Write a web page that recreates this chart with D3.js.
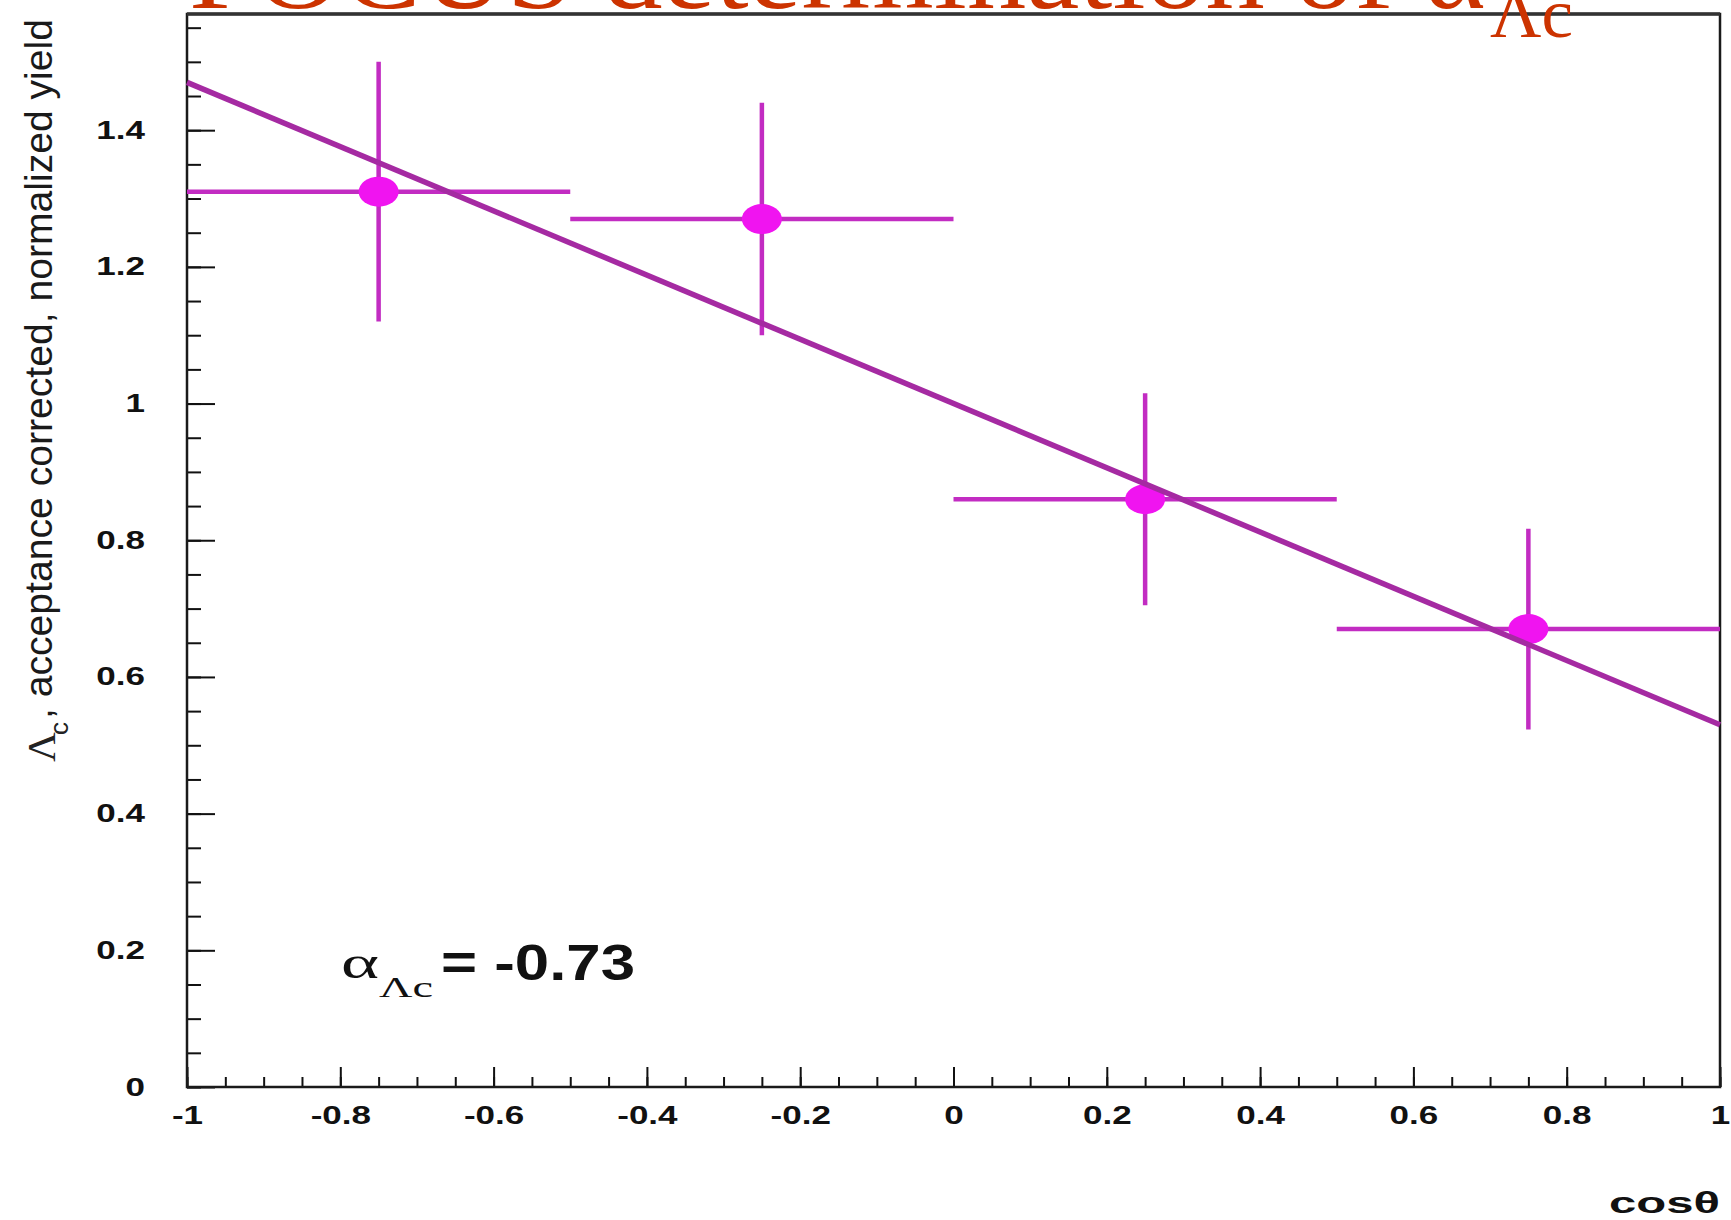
<!DOCTYPE html>
<html>
<head>
<meta charset="utf-8">
<script src="https://cdn.jsdelivr.net/npm/d3@7"></script>
<style>
body { margin: 0; background: #fff; }
svg { display: block; }
</style>
</head>
<body>
<svg id="chart" width="1731" height="1220"></svg>
<script>
// Data
const binCenters = [-0.75, -0.25, 0.25, 0.75];
const binHalfWidths = [0.25, 0.25, 0.25, 0.25];
const yields = [1.31, 1.27, 0.86, 0.67];
const yieldErrors = [0.19, 0.17, 0.155, 0.147];
const fitCos = [-1, 1];
const fitYield = [1.47, 0.53];
const yMajorTicks = [0, 0.2, 0.4, 0.6, 0.8, 1, 1.2, 1.4];
const xMajorTicks = [-1, -0.8, -0.6, -0.4, -0.2, 0, 0.2, 0.4, 0.6, 0.8, 1];
const alphaText = '= -0.73';

const svg = d3.select('#chart');
const sans = '"Liberation Sans", Arial, sans-serif';
const serif = '"Liberation Serif", "Times New Roman", serif';

const x = d3.scaleLinear().domain([-1, 1]).range([187, 1720]);
const y = d3.scaleLinear().domain([0, 1.57]).range([1087, 14]);

const fmt = d => String(+d.toFixed(2));

// stretch labels sideways like the original bitmap
function widen(sel, k) {
    sel.each(function() {
        const w = this.getComputedTextLength();
        d3.select(this).attr('textLength', w * k).attr('lengthAdjust', 'spacingAndGlyphs');
    });
}

function styleAxis(g) {
    g.select('.domain').remove();
    g.selectAll('line').attr('stroke', '#111').attr('stroke-width', 2);
}

// Minor ticks
svg.append('g')
    .attr('transform', 'translate(187,0)')
    .call(d3.axisLeft(y).tickValues(d3.range(0, 1.56, 0.05)).tickSize(-14).tickFormat(''))
    .call(styleAxis);
svg.append('g')
    .attr('transform', 'translate(0,1087)')
    .call(d3.axisBottom(x).tickValues(d3.range(-1, 1.001, 0.05)).tickSize(-10).tickFormat(''))
    .call(styleAxis);

// Major ticks + labels
const yAxis = svg.append('g')
    .attr('transform', 'translate(187,0)')
    .call(d3.axisLeft(y).tickValues(yMajorTicks).tickSize(-28).tickPadding(42).tickFormat(fmt))
    .call(styleAxis);
yAxis.selectAll('text')
    .attr('font-family', sans).attr('font-weight', 'bold').attr('font-size', 25).attr('fill', '#111');
widen(yAxis.selectAll('text'), 1.4);

const xAxis = svg.append('g')
    .attr('transform', 'translate(0,1087)')
    .call(d3.axisBottom(x).tickValues(xMajorTicks).tickSize(-20).tickPadding(19).tickFormat(fmt))
    .call(styleAxis);
xAxis.selectAll('text')
    .attr('font-family', sans).attr('font-weight', 'bold').attr('font-size', 25).attr('fill', '#111');
widen(xAxis.selectAll('text'), 1.4);

// Frame
svg.append('rect')
    .attr('x', x(-1)).attr('y', y(1.57))
    .attr('width', x(1) - x(-1)).attr('height', y(0) - y(1.57))
    .attr('fill', 'none').attr('stroke', '#1a1a1a').attr('stroke-width', 2.5);
svg.append('line')
    .attr('x1', x(-1)).attr('x2', x(1)).attr('y1', y(1.57)).attr('y2', y(1.57))
    .attr('stroke', '#333').attr('stroke-width', 3.5);

// Points
const pts = binCenters.map((c, i) => ({ c, hw: binHalfWidths[i], v: yields[i], e: yieldErrors[i] }));

const bars = svg.append('g').attr('stroke', '#c22cc2').attr('stroke-width', 4.5);
bars.selectAll('.h').data(pts).enter().append('line')
    .attr('x1', d => x(d.c - d.hw)).attr('x2', d => x(d.c + d.hw))
    .attr('y1', d => y(d.v)).attr('y2', d => y(d.v));
bars.selectAll('.v').data(pts).enter().append('line')
    .attr('x1', d => x(d.c)).attr('x2', d => x(d.c))
    .attr('y1', d => y(d.v - d.e)).attr('y2', d => y(d.v + d.e));

svg.append('g').selectAll('ellipse').data(pts).enter().append('ellipse')
    .attr('cx', d => x(d.c)).attr('cy', d => y(d.v))
    .attr('rx', 20).attr('ry', 15)
    .attr('fill', '#f014f0');

// Fit line
svg.append('path')
    .datum(fitCos.map((c, i) => [c, fitYield[i]]))
    .attr('d', d3.line().x(d => x(d[0])).y(d => y(d[1])))
    .attr('fill', 'none').attr('stroke', '#a52aa2').attr('stroke-width', 5.5);

// Title (cut off at top, as in the original)
svg.append('text')
    .attr('x', 189).attr('y', 8)
    .attr('font-family', serif).attr('font-size', 108).attr('fill', '#cc3300')
    .attr('textLength', 1297).attr('lengthAdjust', 'spacingAndGlyphs')
    .text('FOCUS determination of α');
svg.append('text')
    .attr('x', 1490).attr('y', 37)
    .attr('font-family', serif).attr('font-size', 70).attr('fill', '#cc3300')
    .attr('textLength', 83).attr('lengthAdjust', 'spacingAndGlyphs')
    .text('Λc');

// Y title
const yt = svg.append('g').attr('transform', 'translate(0,762) rotate(-90)');
yt.append('text')
    .attr('x', 0).attr('y', 55)
    .attr('font-family', serif).attr('font-size', 40).attr('fill', '#222')
    .attr('textLength', 30).attr('lengthAdjust', 'spacingAndGlyphs')
    .text('Λ');
yt.append('text')
    .attr('x', 27).attr('y', 68)
    .attr('font-family', sans).attr('font-size', 26).attr('fill', '#222')
    .text('c');
yt.append('text')
    .attr('x', 43).attr('y', 52)
    .attr('font-family', sans).attr('font-size', 38).attr('fill', '#1a1a1a')
    .attr('textLength', 700).attr('lengthAdjust', 'spacingAndGlyphs')
    .text(', acceptance corrected, normalized yield');

// X title
svg.append('text')
    .attr('x', 1720).attr('y', 1213).attr('text-anchor', 'end')
    .attr('font-family', sans).attr('font-weight', 'bold').attr('font-size', 30).attr('fill', '#111')
    .attr('textLength', 111).attr('lengthAdjust', 'spacingAndGlyphs')
    .text('cosθ');

// Fit result
svg.append('text')
    .attr('x', 341).attr('y', 978)
    .attr('font-family', serif).attr('font-size', 46).attr('fill', '#111')
    .attr('textLength', 38).attr('lengthAdjust', 'spacingAndGlyphs')
    .text('α');
svg.append('text')
    .attr('x', 379).attr('y', 997)
    .attr('font-family', serif).attr('font-size', 30).attr('fill', '#111')
    .attr('textLength', 54).attr('lengthAdjust', 'spacingAndGlyphs')
    .text('Λc');
svg.append('text')
    .attr('x', 441).attr('y', 980)
    .attr('font-family', sans).attr('font-weight', 'bold').attr('font-size', 50).attr('fill', '#111')
    .attr('textLength', 194).attr('lengthAdjust', 'spacingAndGlyphs')
    .text(alphaText);
</script>
</body>
</html>
